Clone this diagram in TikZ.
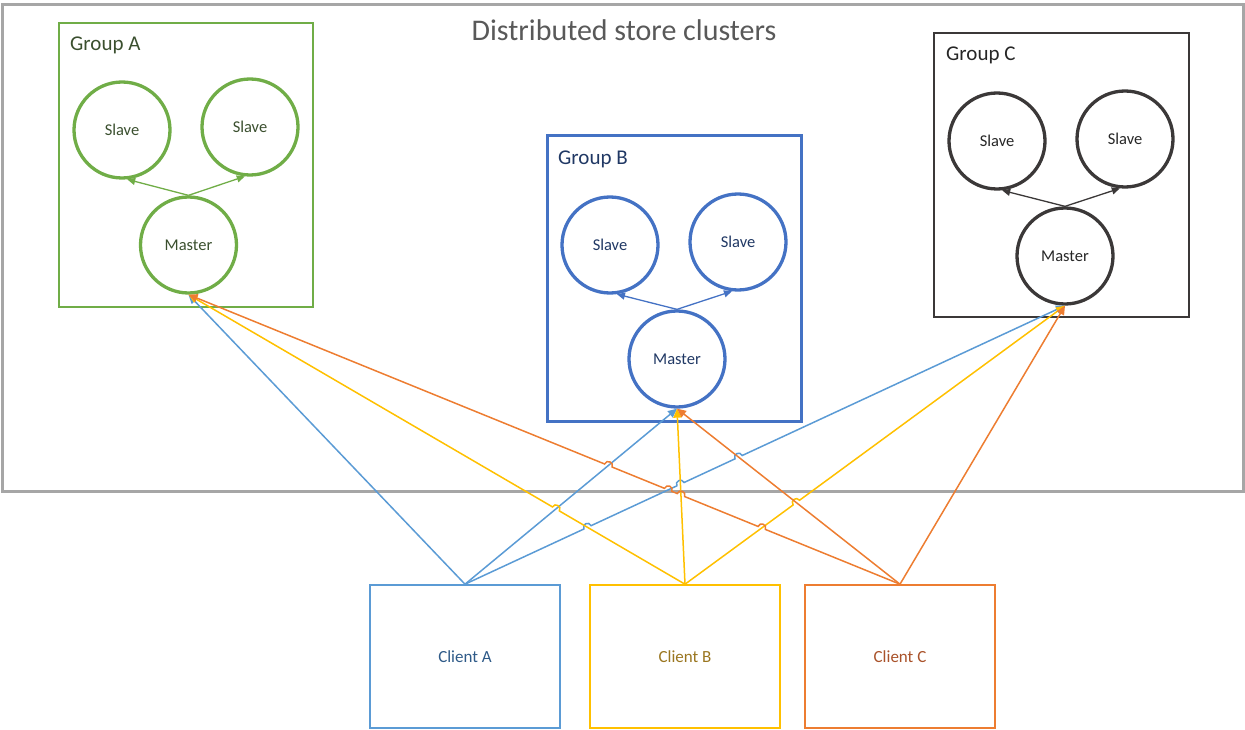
\documentclass[tikz,border=0pt]{standalone}
\usepackage{fontspec}
\setmainfont{Carlito}
\usetikzlibrary{arrows.meta,calc,intersections}

\definecolor{framegray}{HTML}{A6A6A6}
\definecolor{titlegray}{HTML}{595959}
\definecolor{grpA}{HTML}{70AD47}
\definecolor{grpAtxt}{HTML}{3A4F2E}
\definecolor{grpB}{HTML}{4472C4}
\definecolor{grpBtxt}{HTML}{203864}
\definecolor{grpC}{HTML}{3B3838}
\definecolor{grpCtxt}{HTML}{262626}
\definecolor{cliA}{HTML}{5B9BD5}
\definecolor{cliAtxt}{HTML}{2E5A88}
\definecolor{cliB}{HTML}{FFC000}
\definecolor{cliBtxt}{HTML}{9A7620}
\definecolor{cliC}{HTML}{ED7D31}
\definecolor{cliCtxt}{HTML}{A9522A}

% hop radius and control distance for line jumps
\newcommand\hopr{4pt}
\newcommand\hopk{5.3pt}
% #1 crossing point, #2 toward start, #3 toward end, #4/#5 side angles
\newcommand\hopat[5]{%
  \coordinate (#1a) at ($(#1)!\hopr!(#2)$);
  \coordinate (#1b) at ($(#1)!\hopr!(#3)$);
  \coordinate (#1c) at ($(#1a)!\hopk!#4:(#1b)$);
  \coordinate (#1d) at ($(#1b)!\hopk!#5:(#1a)$);
}

\begin{document}
\begin{tikzpicture}[x=1pt,y=-1pt,
  grpbox/.style={draw, rectangle, inner sep=0pt},
  grplabel/.style={anchor=base west, inner sep=0pt, font=\fontsize{21}{24}\selectfont},
  srv/.style={draw, circle, line width=3.3pt, minimum size=96pt, inner sep=0pt,
              font=\fontsize{16.5}{20}\selectfont},
  repl/.style={line width=1.3pt, -{Triangle[length=8pt,width=7pt]}},
  clientbox/.style={draw, rectangle, line width=1.6pt, minimum width=190pt,
              minimum height=143pt, inner sep=0pt, font=\fontsize{17}{20}\selectfont},
  conn/.style={line width=1.5pt, -{Triangle[length=9pt,width=8pt]}}
]
\useasboundingbox (0,0) rectangle (1245,730);

% outer cluster frame and title
\node[draw=framegray, line width=3pt, rectangle, inner sep=0pt,
      minimum width=1241pt, minimum height=486pt] (frame) at (622.5,248) {};
\node[text=titlegray, font=\fontsize{30}{34}\selectfont] (title) at (624,30) {Distributed store clusters};

% Group A
\node[grpbox, draw=grpA, line width=1.6pt, minimum width=254pt, minimum height=284pt] (gA) at (186,165) {};
\node[grplabel, text=grpAtxt] (gAl) at (70,51) {Group A};
\node[srv, draw=grpA, text=grpAtxt] (aS1) at (122,130) {Slave};
\node[srv, draw=grpA, text=grpAtxt] (aS2) at (250,127) {Slave};
\node[srv, draw=grpA, text=grpAtxt] (mA) at (188.5,245) {Master};
\draw[repl, grpA] (mA.north) -- (aS1.-84);
\draw[repl, grpA] (mA.north) -- (aS2.-96);

% Group B
\node[grpbox, draw=grpB, line width=3pt, minimum width=254pt, minimum height=285pt] (gB) at (674,278.5) {};
\node[grplabel, text=grpBtxt] (gBl) at (558,165) {Group B};
\node[srv, draw=grpB, text=grpBtxt] (bS1) at (610,245) {Slave};
\node[srv, draw=grpB, text=grpBtxt] (bS2) at (738,242) {Slave};
\node[srv, draw=grpB, text=grpBtxt] (mB) at (677,359) {Master};
\draw[repl, grpB] (mB.north) -- (bS1.-82);
\draw[repl, grpB] (mB.north) -- (bS2.-97);

% Group C
\node[grpbox, draw=grpC, line width=1.6pt, minimum width=255pt, minimum height=284pt] (gC) at (1061.5,175) {};
\node[grplabel, text=grpCtxt] (gCl) at (946,61) {Group C};
\node[srv, draw=grpC, text=grpCtxt] (cS1) at (997,141) {Slave};
\node[srv, draw=grpC, text=grpCtxt] (cS2) at (1125,139) {Slave};
\node[srv, draw=grpC, text=grpCtxt] (mC) at (1065,256) {Master};
\draw[repl, grpC] (mC.north) -- (cS1.-84);
\draw[repl, grpC] (mC.north) -- (cS2.-96);

% clients
\node[clientbox, draw=cliA, text=cliAtxt] (cA) at (465,656.5) {Client A};
\node[clientbox, draw=cliB, text=cliBtxt] (cB) at (685,656.5) {Client B};
\node[clientbox, draw=cliC, text=cliCtxt] (cC) at (900,656.5) {Client C};

% connector geometry, used to find the line jumps
\path[name path=A2] (cA.north) -- (mB.south);
\path[name path=A3] (cA.north) -- (mC.south);
\path[name path=B1] (cB.north) -- (mA.south);
\path[name path=B2] (cB.north) -- (mB.south);
\path[name path=B3] (cB.north) -- (mC.south);
\path[name path=C1] (cC.north) -- (mA.south);
\path[name path=C2] (cC.north) -- (mB.south);

\path[name intersections={of=A3 and B1, by=ja}];
\path[name intersections={of=A3 and B2, by=jb}];
\path[name intersections={of=A3 and C2, by=jc}];
\path[name intersections={of=B1 and A2, by=jd}];
\path[name intersections={of=B3 and C2, by=je}];
\path[name intersections={of=C1 and B3, by=jf}];
\path[name intersections={of=C1 and B2, by=jg}];
\path[name intersections={of=C1 and A3, by=jh}];
\path[name intersections={of=C1 and A2, by=ji}];

\hopat{ja}{cA.north}{mC.south}{90}{-90}
\hopat{jb}{cA.north}{mC.south}{90}{-90}
\hopat{jc}{cA.north}{mC.south}{90}{-90}
\hopat{jd}{cB.north}{mA.south}{-90}{90}
\hopat{je}{cB.north}{mC.south}{90}{-90}
\hopat{jf}{cC.north}{mA.south}{-90}{90}
\hopat{jg}{cC.north}{mA.south}{-90}{90}
\hopat{jh}{cC.north}{mA.south}{-90}{90}
\hopat{ji}{cC.north}{mA.south}{-90}{90}

% client A connectors
\draw[conn, cliA] (cA.north) -- (mA.south);
\draw[conn, cliA] (cA.north) -- (mB.south);
\draw[conn, cliA] (cA.north) -- (jaa) .. controls (jac) and (jad) .. (jab)
  -- (jba) .. controls (jbc) and (jbd) .. (jbb)
  -- (jca) .. controls (jcc) and (jcd) .. (jcb) -- (mC.south);

% client B connectors
\draw[conn, cliB] (cB.north) -- (jda) .. controls (jdc) and (jdd) .. (jdb) -- (mA.south);
\draw[conn, cliB] (cB.north) -- (mB.south);
\draw[conn, cliB] (cB.north) -- (jea) .. controls (jec) and (jed) .. (jeb) -- (mC.south);

% client C connectors
\draw[conn, cliC] (cC.north) -- (jfa) .. controls (jfc) and (jfd) .. (jfb)
  -- (jga) .. controls (jgc) and (jgd) .. (jgb)
  -- (jha) .. controls (jhc) and (jhd) .. (jhb)
  -- (jia) .. controls (jic) and (jid) .. (jib) -- (mA.south);
\draw[conn, cliC] (cC.north) -- (mB.south);
\draw[conn, cliC] (cC.north) -- (mC.south);
\end{tikzpicture}
\end{document}
